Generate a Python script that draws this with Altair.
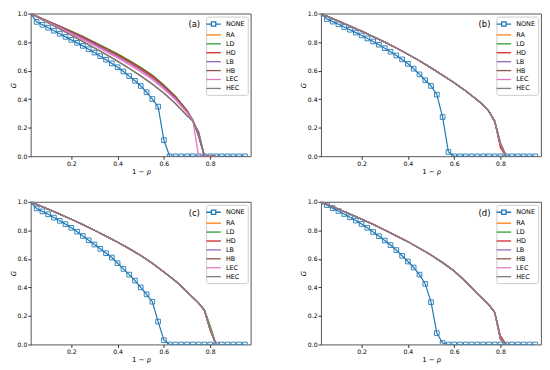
import altair as alt
import pandas as pd

SERIES = ["NONE", "RA", "LD", "HD", "LB", "HB", "LEC", "HEC"]
COLORS = ["#1f77b4", "#ff7f0e", "#2ca02c", "#d62728", "#9467bd", "#8c564b", "#e377c2", "#7f7f7f"]

# legend symbols: line with square for NONE, plain lines for the others
LINE_SYM = "M-2.1,0H2.1"
NONE_SYM = "M-2.1,0H-0.63M0.63,0H2.1M-0.63,-0.63H0.63V0.63H-0.63Z"
SHAPES = [NONE_SYM] + [LINE_SYM] * 7

X_TICKS = [0.2, 0.4, 0.6, 0.8]
Y_TICKS = [0.0, 0.2, 0.4, 0.6, 0.8, 1.0]

# x grid of the NONE series (markers)
X_NONE = [0.025, 0.05, 0.075, 0.1, 0.125, 0.15, 0.175, 0.2, 0.225, 0.25,
          0.275, 0.3, 0.325, 0.35, 0.375, 0.4, 0.425, 0.45, 0.475, 0.5,
          0.525, 0.55, 0.575, 0.6, 0.625, 0.65, 0.675, 0.7, 0.725, 0.75,
          0.775, 0.8, 0.825, 0.85, 0.875, 0.9, 0.925, 0.95]

# x grid of the strategy curves
X_CURVE = [0.025, 0.05, 0.1, 0.15, 0.2, 0.25, 0.3, 0.35, 0.4, 0.45,
           0.5, 0.55, 0.6, 0.65, 0.7, 0.725, 0.75, 0.775, 0.8, 0.825]

NONE_A = [1.0, 0.942, 0.922, 0.901, 0.880, 0.859, 0.837, 0.816, 0.795, 0.774,
          0.751, 0.727, 0.702, 0.677, 0.651, 0.624, 0.594, 0.562, 0.529, 0.493,
          0.449, 0.401, 0.348, 0.113] + [0.0] * 14
NONE_B = [1.0, 0.962, 0.944, 0.925, 0.906, 0.887, 0.867, 0.847, 0.826, 0.805,
          0.782, 0.758, 0.733, 0.707, 0.679, 0.648, 0.614, 0.574, 0.533, 0.493,
          0.432, 0.275, 0.030] + [0.0] * 15
NONE_C = [1.0, 0.954, 0.933, 0.913, 0.890, 0.867, 0.844, 0.818, 0.791, 0.761,
          0.731, 0.701, 0.671, 0.640, 0.610, 0.570, 0.530, 0.490, 0.448, 0.400,
          0.352, 0.300, 0.161, 0.030] + [0.0] * 14
NONE_D = [1.0, 0.977, 0.956, 0.936, 0.915, 0.892, 0.869, 0.845, 0.818, 0.789,
          0.759, 0.729, 0.697, 0.662, 0.622, 0.582, 0.540, 0.490, 0.425, 0.297,
          0.080, 0.010] + [0.0] * 16

PANEL_A = {
    "RA":  [1.0, 0.981, 0.944, 0.906, 0.868, 0.829, 0.788, 0.746, 0.702, 0.656, 0.607, 0.553, 0.485, 0.409, 0.313, 0.252, 0.150, 0.0, 0.0, 0.0],
    "LD":  [1.0, 0.983, 0.948, 0.913, 0.877, 0.840, 0.801, 0.761, 0.718, 0.673, 0.624, 0.570, 0.500, 0.422, 0.322, 0.255, 0.140, 0.0, 0.0, 0.0],
    "HD":  [1.0, 0.982, 0.946, 0.910, 0.873, 0.835, 0.795, 0.754, 0.711, 0.665, 0.616, 0.562, 0.493, 0.416, 0.318, 0.253, 0.145, 0.0, 0.0, 0.0],
    "LB":  [1.0, 0.981, 0.943, 0.905, 0.866, 0.827, 0.786, 0.744, 0.700, 0.654, 0.605, 0.551, 0.483, 0.407, 0.312, 0.252, 0.140, 0.0, 0.0, 0.0],
    "HB":  [1.0, 0.979, 0.936, 0.893, 0.849, 0.805, 0.760, 0.714, 0.667, 0.617, 0.564, 0.507, 0.443, 0.370, 0.286, 0.247, 0.170, 0.0, 0.0, 0.0],
    "LEC": [1.0, 0.980, 0.940, 0.900, 0.860, 0.819, 0.777, 0.734, 0.689, 0.642, 0.592, 0.538, 0.472, 0.398, 0.305, 0.250, 0.0, 0.0, 0.0, 0.0],
    "HEC": [1.0, 0.978, 0.935, 0.892, 0.848, 0.804, 0.759, 0.713, 0.665, 0.615, 0.562, 0.505, 0.441, 0.368, 0.284, 0.245, 0.170, 0.0, 0.0, 0.0],
}

B_HEAD = [1.0, 0.982, 0.947, 0.912, 0.877, 0.839, 0.800, 0.759, 0.715, 0.670, 0.620, 0.568, 0.515, 0.458, 0.395, 0.360, 0.315]
PANEL_B = {
    "RA":  B_HEAD + [0.245, 0.070, 0.0],
    "LD":  B_HEAD + [0.247, 0.080, 0.0],
    "HD":  B_HEAD + [0.245, 0.060, 0.0],
    "LB":  B_HEAD + [0.245, 0.085, 0.0],
    "HB":  B_HEAD + [0.245, 0.090, 0.0],
    "LEC": B_HEAD + [0.245, 0.085, 0.0],
    "HEC": B_HEAD + [0.245, 0.095, 0.0],
}

C_HEAD = [1.0, 0.983, 0.949, 0.914, 0.878, 0.840, 0.801, 0.760, 0.717, 0.672, 0.624, 0.570, 0.508, 0.445, 0.370, 0.330, 0.290]
PANEL_C = {
    "RA":  C_HEAD + [0.242, 0.120, 0.0],
    "LD":  C_HEAD + [0.245, 0.130, 0.0],
    "HD":  C_HEAD + [0.238, 0.100, 0.0],
    "LB":  C_HEAD + [0.240, 0.110, 0.0],
    "HB":  C_HEAD + [0.238, 0.100, 0.0],
    "LEC": C_HEAD + [0.240, 0.110, 0.0],
    "HEC": C_HEAD + [0.240, 0.110, 0.0],
}

D_HEAD = [1.0, 0.983, 0.950, 0.915, 0.879, 0.842, 0.803, 0.762, 0.720, 0.675, 0.627, 0.574, 0.515, 0.440, 0.357, 0.318, 0.278]
PANEL_D = {
    "RA":  D_HEAD + [0.225, 0.040, 0.0],
    "LD":  D_HEAD + [0.225, 0.040, 0.0],
    "HD":  D_HEAD + [0.228, 0.060, 0.0],
    "LB":  D_HEAD + [0.225, 0.040, 0.0],
    "HB":  D_HEAD + [0.225, 0.035, 0.0],
    "LEC": D_HEAD + [0.225, 0.040, 0.0],
    "HEC": D_HEAD + [0.225, 0.040, 0.0],
}

PANELS = [("(a)", NONE_A, PANEL_A), ("(b)", NONE_B, PANEL_B),
          ("(c)", NONE_C, PANEL_C), ("(d)", NONE_D, PANEL_D)]

W, H = 222, 144


def make_panel(label, none_vals, curves):
    none_df = pd.DataFrame({"x": X_NONE, "G": none_vals, "series": "NONE"})
    rows = []
    for s in SERIES[1:]:
        for xv, gv in zip(X_CURVE, curves[s]):
            rows.append({"x": xv, "G": gv, "series": s})
    curve_df = pd.DataFrame(rows)
    leg_df = pd.DataFrame({"series": SERIES, "x": [None] * 8, "G": [None] * 8})

    xenc = alt.X("x:Q", scale=alt.Scale(domain=[0.025, 0.975], nice=False, zero=False),
                 axis=alt.Axis(values=X_TICKS, format=".1f", title="1 − 𝑝"))
    yenc = alt.Y("G:Q", scale=alt.Scale(domain=[0, 1], nice=False),
                 axis=alt.Axis(values=Y_TICKS, format=".1f", title="G", titleFontStyle="italic"))
    cscale = alt.Scale(domain=SERIES, range=COLORS)
    sscale = alt.Scale(domain=SERIES, range=SHAPES)
    leg = alt.Legend(title=None, orient="top-right", offset=3, labelFontSize=6.5,
                     symbolSize=49, symbolStrokeWidth=1.3, symbolOpacity=1,
                     padding=3, rowPadding=1,
                     fillColor="white", strokeColor="#cccccc", cornerRadius=2,
                     labelOffset=8, labelColor="#000000")
    color = alt.Color("series:N", scale=cscale, legend=leg)

    none_line = alt.Chart(none_df).mark_line(strokeWidth=1.2, clip=True).encode(
        x=xenc, y=yenc, color=color)
    none_pts = alt.Chart(none_df).mark_point(shape="square", filled=False, size=22,
                                             strokeWidth=0.9, opacity=1, clip=True).encode(
        x=xenc, y=yenc, color=color)
    lines = alt.Chart(curve_df).mark_line(strokeWidth=1.3, clip=True).encode(
        x=xenc, y=yenc, color=color)
    legend_layer = alt.Chart(leg_df).mark_point(filled=False, opacity=1).encode(
        x=xenc, y=yenc, color=color,
        shape=alt.Shape("series:N", scale=sscale, legend=leg))
    text = alt.Chart(pd.DataFrame({"label": [label]})).mark_text(
        fontSize=8.5, align="center", baseline="middle", color="#000000").encode(
        x=alt.value(165), y=alt.value(11), text="label:N")
    return alt.layer(none_line, none_pts, lines, legend_layer, text).properties(width=W, height=H)


def indep(c):
    return c.resolve_scale(color="independent", shape="independent").resolve_legend(
        color="independent", shape="independent")


charts = [make_panel(*p) for p in PANELS]
top = indep(alt.hconcat(charts[0], charts[1], spacing=47))
bottom = indep(alt.hconcat(charts[2], charts[3], spacing=47))
chart = indep(alt.vconcat(top, bottom, spacing=23)).properties(
    padding={"left": 0, "top": 0, "right": 0, "bottom": 0}
).configure(font="DejaVu Sans").configure_axis(
    labelFontSize=6.2, titleFontSize=7, tickSize=3, labelPadding=1, titlePadding=1,
    grid=False, domain=False, labelColor="#000000", titleColor="#000000",
    tickColor="#333333", titleFontWeight="normal"
).configure_view(stroke="#444444", strokeWidth=0.9)

chart.save("out.html", embed_options={"renderer": "svg", "actions": False})
